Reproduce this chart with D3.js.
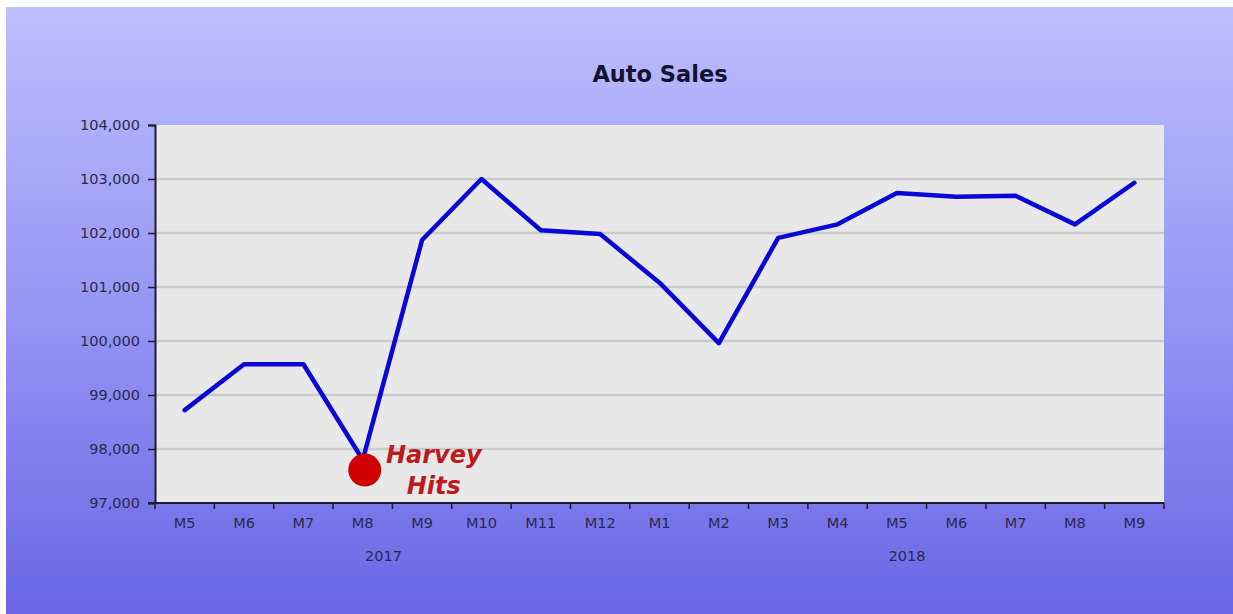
<!DOCTYPE html>
<html>
<head>
<meta charset="utf-8">
<script src="https://cdn.jsdelivr.net/npm/d3@7"></script>
<style>
  body { margin: 0; background: #ffffff; }
  svg { display: block; }
  text { font-family: "DejaVu Sans", Arial, sans-serif; }
</style>
</head>
<body>
<div id="chart"></div>
<script>
// monthly auto sales, May 2017 .. Sep 2018
var monthLabels = ["M5", "M6", "M7", "M8", "M9", "M10", "M11", "M12",
                   "M1", "M2", "M3", "M4", "M5", "M6", "M7", "M8", "M9"];
var sales = [98720, 99570, 99570, 97800, 101870, 103000, 102050, 101980,
             101080, 99960, 101910, 102160, 102740, 102670, 102690, 102160, 102930];
var yearLabels = ["2017", "2018"];
var yearStart = [0, 8];          // index of first month of each year
var yTicks = [97000, 98000, 99000, 100000, 101000, 102000, 103000, 104000];
var noteIndex = 3;               // Harvey hits, Aug 2017
var noteValue = 97610;
var noteLines = ["Harvey", "Hits"];

var W = 1233, H = 614;
var plot = { left: 155, right: 1164, top: 125, bottom: 503 };

var svg = d3.select("#chart").append("svg")
    .attr("width", W)
    .attr("height", H);

// background gradient
var grad = svg.append("defs").append("linearGradient")
    .attr("id", "bg")
    .attr("x1", 0).attr("y1", 0).attr("x2", 0).attr("y2", 1);
grad.append("stop").attr("offset", "0%").attr("stop-color", "#bdbefc");
grad.append("stop").attr("offset", "50%").attr("stop-color", "#9596f4");
grad.append("stop").attr("offset", "100%").attr("stop-color", "#6a66e5");

svg.append("rect")
    .attr("x", 6).attr("y", 7)
    .attr("width", W - 6).attr("height", H - 7)
    .attr("fill", "url(#bg)");

var x = d3.scaleBand()
    .domain(d3.range(sales.length))
    .range([plot.left, plot.right])
    .paddingInner(0).paddingOuter(0);

var y = d3.scaleLinear()
    .domain([97000, 104000])
    .range([plot.bottom, plot.top]);

// plot area
svg.append("rect")
    .attr("x", plot.left).attr("y", plot.top)
    .attr("width", plot.right - plot.left)
    .attr("height", plot.bottom - plot.top)
    .attr("fill", "#e8e8e8");

// grid lines
svg.append("g").selectAll("line")
    .data(yTicks.slice(1, -1))
    .enter()
    .append("line")
    .attr("x1", plot.left).attr("x2", plot.right)
    .attr("y1", function (d) { return y(d); })
    .attr("y2", function (d) { return y(d); })
    .attr("stroke", "#cbcbcb")
    .attr("stroke-width", 2.5);

// title
svg.append("text")
    .attr("x", 660).attr("y", 82)
    .attr("text-anchor", "middle")
    .attr("font-size", 22.5)
    .attr("font-weight", "bold")
    .attr("fill", "#121234")
    .text("Auto Sales");

// y axis
var yAxis = svg.append("g")
    .attr("transform", "translate(" + plot.left + ",0)")
    .call(d3.axisLeft(y)
        .tickValues(yTicks)
        .tickFormat(d3.format(","))
        .tickSize(7)
        .tickPadding(8));
yAxis.select(".domain").attr("stroke", "#1c1c30").attr("stroke-width", 2);
yAxis.selectAll(".tick line").attr("stroke", "#1c1c30").attr("stroke-width", 1.5);
yAxis.selectAll(".tick text")
    .attr("font-family", "DejaVu Sans")
    .attr("font-size", 14.5)
    .attr("fill", "#2a2a4c");

// x axis: line, boundary ticks, month labels
var xg = svg.append("g");
xg.append("line")
    .attr("x1", plot.left - 7).attr("x2", plot.right)
    .attr("y1", plot.bottom).attr("y2", plot.bottom)
    .attr("stroke", "#1c1c30").attr("stroke-width", 2);

var edges = d3.range(sales.length).map(function (i) { return x(i); }).concat([plot.right]);
xg.selectAll(".edge")
    .data(edges)
    .enter()
    .append("line")
    .attr("class", "edge")
    .attr("x1", function (d) { return d; })
    .attr("x2", function (d) { return d; })
    .attr("y1", plot.bottom).attr("y2", plot.bottom + 6)
    .attr("stroke", "#1c1c30").attr("stroke-width", 1.5);

xg.selectAll(".mlab")
    .data(monthLabels)
    .enter()
    .append("text")
    .attr("class", "mlab")
    .attr("x", function (d, i) { return x(i) + x.bandwidth() / 2; })
    .attr("y", plot.bottom + 25)
    .attr("text-anchor", "middle")
    .attr("font-size", 14.5)
    .attr("fill", "#2a2a4c")
    .text(function (d) { return d; });

// year labels sit a little off the middle of their months, as in the source
var yearNudge = [-9, 10];
xg.selectAll(".ylab")
    .data(yearLabels)
    .enter()
    .append("text")
    .attr("class", "ylab")
    .attr("x", function (d, i) {
        var a = x(yearStart[i]);
        var b = i + 1 < yearStart.length ? x(yearStart[i + 1]) : plot.right;
        return (a + b) / 2 + yearNudge[i];
    })
    .attr("y", plot.bottom + 58)
    .attr("text-anchor", "middle")
    .attr("font-size", 14.5)
    .attr("fill", "#2a2a4c")
    .text(function (d) { return d; });

// sales line
var line = d3.line()
    .x(function (d, i) { return x(i) + x.bandwidth() / 2; })
    .y(function (d) { return y(d); });

svg.append("path")
    .datum(sales)
    .attr("d", line)
    .attr("fill", "none")
    .attr("stroke", "#0808d6")
    .attr("stroke-width", 4.5)
    .attr("stroke-linejoin", "round")
    .attr("stroke-linecap", "round");

// Harvey marker
var nx = x(noteIndex) + x.bandwidth() / 2 + 2;
var ny = y(noteValue);
svg.append("circle")
    .attr("cx", nx).attr("cy", ny)
    .attr("r", 16.5)
    .attr("fill", "#d00000");

svg.append("g").selectAll("text")
    .data(noteLines)
    .enter()
    .append("text")
    .attr("x", nx + 69)
    .attr("y", function (d, i) { return ny - 7 + i * 31; })
    .attr("text-anchor", "middle")
    .attr("font-family", "Open Sans, DejaVu Sans, sans-serif")
    .attr("font-size", 24)
    .attr("font-weight", "bold")
    .attr("font-style", "italic")
    .attr("fill", "#be1a1e")
    .text(function (d) { return d; });
</script>
</body>
</html>
